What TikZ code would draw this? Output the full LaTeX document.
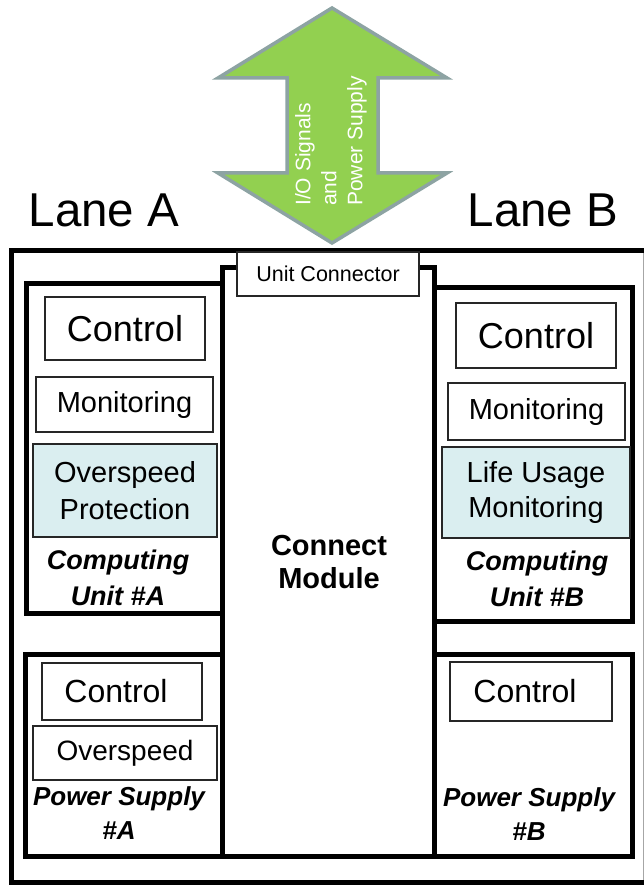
\documentclass[tikz,border=0pt]{standalone}
\usepackage{fontspec}
\setmainfont{Liberation Sans}
\definecolor{arrowfill}{HTML}{92D050}
\definecolor{arrowedge}{HTML}{8DA3A3}
\definecolor{paleaqua}{HTML}{DAEEF0}
\newcommand{\fs}[2]{\fontsize{#1}{#2}\selectfont}
\tikzset{
  frame/.style={draw=black, line width=5pt, inner sep=0pt, fill=none},
  unitbox/.style={draw=black!85, line width=1.2pt, inner sep=0pt, fill=white, align=center},
  hilite/.style={unitbox, fill=paleaqua},
  caption/.style={inner sep=0pt, align=center, font=\bfseries\itshape\fs{27}{36}},
  lanetitle/.style={anchor=base, inner sep=0pt, font=\fs{47.5}{52}},
}
\begin{document}
\begin{tikzpicture}[x=1pt, y=-1pt]
\useasboundingbox (0,0) rectangle (644,885);
\fill[white] (0,0) rectangle (644,885);

% double-headed interface arrow
\draw[arrowedge, fill=arrowfill, line width=3.5pt, line join=miter]
  (332,8) -- (447,78) -- (378,78) -- (378,173) -- (447,173) -- (332,243)
  -- (218,173) -- (287,173) -- (287,78) -- (218,78) -- cycle;
\node[rotate=90, anchor=west, align=left, text=white, inner sep=0pt,
      font=\fs{21}{26}] (io) at (331,206) {I/O Signals\\and\\Power Supply};

% lane titles
\node[lanetitle] (laneA) at (104,226) {Lane A};
\node[lanetitle] (laneB) at (543,226) {Lane B};

% unit housing: its right side lies at the page edge
\draw[black, line width=5pt, line join=miter]
  (648,250.5) -- (11,250.5) -- (11,882.5) -- (648,882.5);
\draw[black!35, line width=0.8pt] (643.2,253) -- (643.2,880);

% lane A computing unit
\node[frame, minimum width=196pt, minimum height=330pt] (cuA) at (124,448) {};
\node[unitbox, minimum width=160pt, minimum height=63pt, font=\fs{36}{40}] (ctlA) at (125,328.5) {Control};
\node[unitbox, minimum width=177pt, minimum height=55pt, font=\fs{29}{34}] (monA) at (124.5,404.5) {Monitoring};
\node[hilite, minimum width=184pt, minimum height=93pt, font=\fs{29}{37}] (ospA) at (125,490.5) {Overspeed\\Protection};
\node[caption] (cuAlbl) at (118,578) {Computing\\Unit \#A};

% lane B computing unit
\node[frame, minimum width=198pt, minimum height=334pt] (cuB) at (533,454) {};
\node[unitbox, minimum width=160pt, minimum height=65pt, font=\fs{36}{40}] (ctlB) at (536,335.5) {Control};
\node[unitbox, minimum width=177pt, minimum height=57pt, font=\fs{29}{34}] (monB) at (536.5,411.5) {Monitoring};
\node[hilite, minimum width=188pt, minimum height=91pt, font=\fs{29}{35}] (lumB) at (536,492.5) {Life Usage\\Monitoring};
\node[caption] (cuBlbl) at (537,579) {Computing\\Unit \#B};

% power supplies
\node[frame, minimum width=197pt, minimum height=202pt] (psA) at (123.5,755) {};
\node[unitbox, minimum width=160pt, minimum height=57pt, font=\fs{32}{36}] (psctlA) at (122,691.5) {Control\hspace{12pt}};
\node[unitbox, minimum width=184pt, minimum height=54pt, font=\fs{28}{32}] (psospA) at (125,753) {Overspeed};
\node[caption, font=\bfseries\itshape\fs{26}{34}] (psAlbl) at (119,813) {Power Supply\\\#A};

\node[frame, minimum width=198pt, minimum height=202pt] (psB) at (533,755) {};
\node[unitbox, minimum width=162pt, minimum height=59pt, font=\fs{32}{36}] (psctlB) at (531,691.5) {Control\hspace{12pt}};
\node[caption, font=\bfseries\itshape\fs{26}{34}] (psBlbl) at (529,814) {Power Supply\\\#B};

% central connect module and its connector
\node[frame, minimum width=212pt, minimum height=589pt] (cm) at (328,561.5) {};
\node[inner sep=0pt, align=center, font=\bfseries\fs{29}{33}] (cmlbl) at (329,562) {Connect\\Module};
\node[unitbox, minimum width=182pt, minimum height=44pt, font=\fs{21.5}{24}] (conn) at (328,274) {Unit Connector};
\end{tikzpicture}
\end{document}
